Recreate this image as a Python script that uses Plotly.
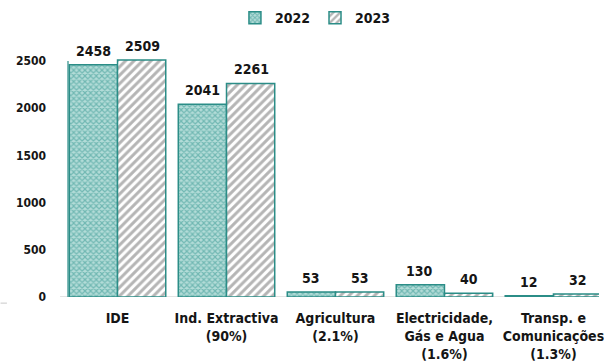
import plotly.graph_objects as go

categories = [
    "IDE",
    "Ind. Extractiva<br>(90%)",
    "Agricultura<br>(2.1%)",
    "Electricidade,<br>Gás e Agua<br>(1.6%)",
    "Transp. e<br>Comunicações<br>(1.3%)",
]
values_2022 = [2458, 2041, 53, 130, 12]
values_2023 = [2509, 2261, 53, 40, 32]
y_ticks = [0, 500, 1000, 1500, 2000, 2500]

FONT = "DejaVu Sans Condensed"
TEAL = "#2b8d87"
INK = "#151515"
x_idx = list(range(len(categories)))
HALF_BAR_PX = 24.5  # horizontal offset of each series' bar centre within a group

fig = go.Figure()
fig.add_trace(go.Bar(
    name="2022", x=x_idx, y=values_2022,
    marker=dict(
        color="#b0dbd7",
        line=dict(color=TEAL, width=1.5),
        pattern=dict(shape="x", fgcolor="#2f938d", bgcolor="#b3dcd8", size=4, solidity=0.5),
    ),
))
fig.add_trace(go.Bar(
    name="2023", x=x_idx, y=values_2023,
    marker=dict(
        color="white",
        line=dict(color=TEAL, width=1.5),
        pattern=dict(shape="/", fgcolor="#6b6b6b", bgcolor="white", size=6, solidity=0.5),
    ),
))

# value labels above every bar
annotations = []
for vals, shift in ((values_2022, -HALF_BAR_PX), (values_2023, HALF_BAR_PX)):
    for i, v in zip(x_idx, vals):
        annotations.append(dict(
            x=i, y=v, xref="x", yref="y", text=str(v), showarrow=False,
            xshift=shift, yanchor="bottom", yshift=4,
            font=dict(family=FONT, size=14, color=INK, weight="bold"),
        ))

fig.update_layout(
    width=604, height=364,
    margin=dict(l=68, r=0, t=42, b=67),
    paper_bgcolor="white", plot_bgcolor="white",
    barmode="group", bargap=0.115, bargroupgap=0,
    font=dict(family=FONT, color=INK),
    showlegend=True,
    legend=dict(
        orientation="h", x=0.466, xanchor="center", y=1.094, yanchor="middle",
        font=dict(family=FONT, size=14, weight="bold"),
        itemwidth=30, tracegroupgap=0,
    ),
    xaxis=dict(
        range=[-0.4545, 4.418],
        tickmode="array", tickvals=x_idx, ticktext=categories,
        tickfont=dict(family=FONT, size=14, weight="bold"),
        showline=False, showgrid=False, zeroline=False, ticks="",
        ticklabelstandoff=11, ticklabeloverflow="allow",
    ),
    yaxis=dict(
        range=[0, 2700],
        tickmode="array", tickvals=y_ticks,
        tickfont=dict(family=FONT, size=12, weight="bold"),
        showline=False, showgrid=False, zeroline=False, ticks="",
        ticklabelstandoff=21,
    ),
    annotations=annotations,
    shapes=[
        # baseline of the category axis, running slightly past the value axis
        dict(type="line", xref="paper", yref="y", x0=-0.015, x1=1, y0=0, y1=0,
             line=dict(color="#c8c8c8", width=1.2), layer="below"),
        # value axis line
        dict(type="line", xref="paper", yref="y", x0=0, x1=0, y0=0, y1=2500,
             line=dict(color=TEAL, width=1.2)),
        # short rule at the far left edge
        dict(type="line", xref="paper", yref="paper", x0=-0.127, x1=-0.115, y0=-0.024, y1=-0.024,
             line=dict(color="#c8c8c8", width=1)),
    ],
)

fig.write_html("out.html")
